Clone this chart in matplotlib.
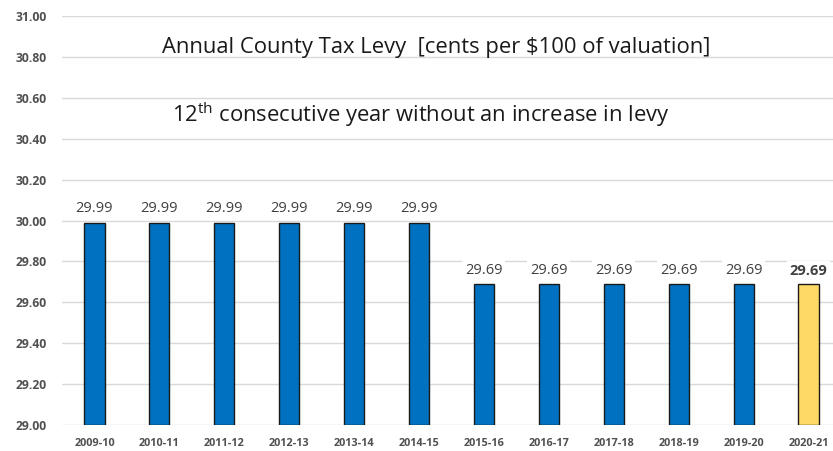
import matplotlib as mpl
import matplotlib.pyplot as plt
import numpy as np

years = ['2009-10', '2010-11', '2011-12', '2012-13', '2013-14', '2014-15',
         '2015-16', '2016-17', '2017-18', '2018-19', '2019-20', '2020-21']
levy = [29.99, 29.99, 29.99, 29.99, 29.99, 29.99,
        29.69, 29.69, 29.69, 29.69, 29.69, 29.69]
yticks = [29.00, 29.20, 29.40, 29.60, 29.80, 30.00, 30.20, 30.40, 30.60, 30.80, 31.00]

mpl.rcParams['font.family'] = ['Open Sans', 'DejaVu Sans']
mpl.rcParams['mathtext.fontset'] = 'custom'
mpl.rcParams['mathtext.rm'] = 'Open Sans'

fig = plt.figure(figsize=(8.33, 4.51), dpi=100)
ax = fig.add_axes([62/833, 1-425/451, (841-62)/833, (425-16)/451])

x = np.arange(len(years))
colors = ['#0070C0']*(len(years)-1) + ['#FFD966']
ax.bar(x, np.array(levy) - 29.0, bottom=29.0, width=0.31, color=colors,
       edgecolor='#1a1a1a', linewidth=1.0, zorder=3)

for i, v in enumerate(levy):
    last = i == len(levy) - 1
    ax.text(i, v + 0.03, '%.2f' % v, ha='center', va='bottom', fontsize=10.5,
            color='#404040', fontweight='bold' if last else 'normal',
            bbox=dict(facecolor='white', edgecolor='none', pad=2), zorder=4)

ax.set_xlim(-0.5, len(years) - 0.5)
ax.set_ylim(29.0, 31.0)
ax.set_yticks(yticks)
ax.set_yticklabels(['%.2f' % t for t in yticks])
ax.set_xticks(x)
ax.set_xticklabels(years)
ax.tick_params(axis='both', length=0, colors='#505050', labelsize=7.8)
ax.tick_params(axis='y', pad=11, labelsize=8.7)
ax.tick_params(axis='x', pad=9)
for lab in ax.get_xticklabels() + ax.get_yticklabels():
    lab.set_fontweight('bold')
ax.grid(axis='y', color='#D9D9D9', linewidth=1.0, zorder=0)
ax.set_axisbelow(True)
for s in ax.spines.values():
    s.set_visible(False)

fig.text(436/833, 1-47/451, 'Annual County Tax Levy  [cents per \\$100 of valuation]',
         ha='center', va='center', fontsize=15.8, color='#1a1a1a')
fig.text(421/833, 1-115/451, '12$^{\\mathrm{th}}$ consecutive year without an increase in levy',
         ha='center', va='center', fontsize=15.8, color='#1a1a1a')

fig.savefig('out.png', dpi=100)
